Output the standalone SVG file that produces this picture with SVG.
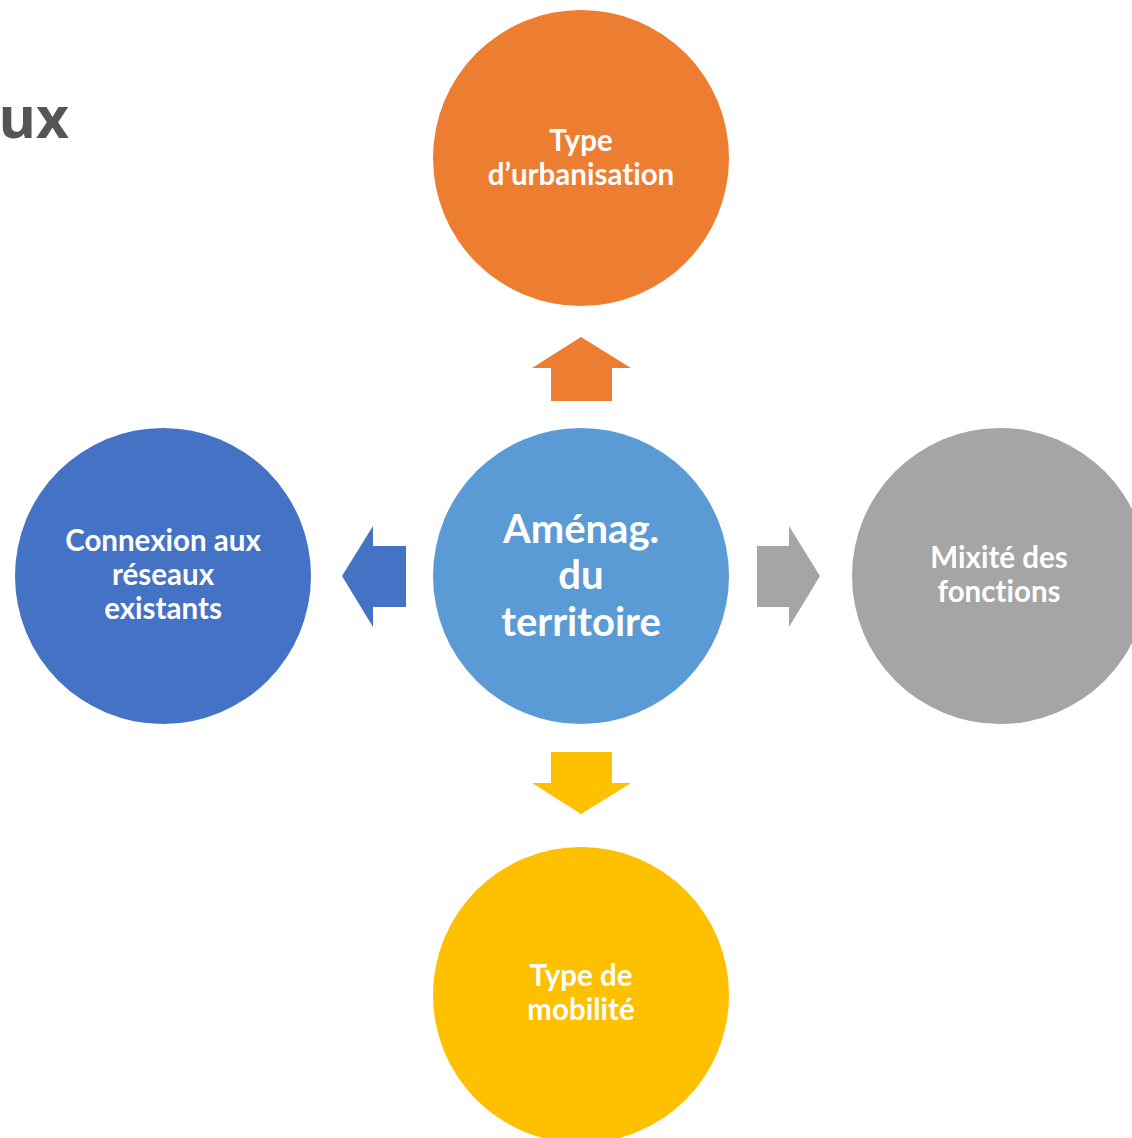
<svg xmlns="http://www.w3.org/2000/svg" width="1132" height="1138" viewBox="0 0 1132 1138">
<style>
.lbl{font-family:Lato,"Open Sans","Liberation Sans",sans-serif;font-weight:bold;fill:#ffffff;text-anchor:middle;font-variant-ligatures:none;font-feature-settings:"liga" 0,"clig" 0,"dlig" 0}
.s27{font-size:29.5px}
.s36{font-size:40px}
.ttl{font-family:"Open Sans","Liberation Sans",sans-serif;font-weight:bold;font-size:57px;fill:#555555;text-anchor:end}
</style>
<rect width="1132" height="1138" fill="#ffffff"/>
<text class="ttl" x="69" y="138">ux</text>
<g id="connectors">
<polygon points="581,337 631,368 612,368 612,401 551,401 551,368 532,368" fill="#ED7D31"/>
<polygon points="342,576 373,526 373,546 406,546 406,607 373,607 373,627" fill="#4472C4"/>
<polygon points="820,576 789,526 789,546 757,546 757,607 789,607 789,627" fill="#A5A5A5"/>
<polygon points="581,814 631,783 612,783 612,752 551,752 551,783 532,783" fill="#FFC000"/>
</g>
<g id="node-center">
<circle cx="581" cy="576" r="148" fill="#5B9BD5"/>
<text class="lbl s36" x="581" y="543">Aménag.</text>
<text class="lbl s36" x="581" y="589">du</text>
<text class="lbl s36" x="581" y="636">territoire</text>
</g>
<g id="node-top">
<circle cx="581" cy="158" r="148" fill="#ED7D31"/>
<text class="lbl s27" x="581" y="151">Type</text>
<text class="lbl s27" x="581" y="185">d’urbanisation</text>
</g>
<g id="node-left">
<circle cx="163" cy="576" r="148" fill="#4472C4"/>
<text class="lbl s27" x="163" y="551">Connexion aux</text>
<text class="lbl s27" x="163" y="585">réseaux</text>
<text class="lbl s27" x="163" y="619">existants</text>
</g>
<g id="node-right">
<circle cx="1000" cy="576" r="148" fill="#A5A5A5"/>
<text class="lbl s27" x="999" y="568">Mixité des</text>
<text class="lbl s27" x="999" y="602">fonctions</text>
</g>
<g id="node-bottom">
<circle cx="581" cy="995" r="148" fill="#FFC000"/>
<text class="lbl s27" x="581" y="986">Type de</text>
<text class="lbl s27" x="581" y="1020">mobilité</text>
</g>
</svg>
